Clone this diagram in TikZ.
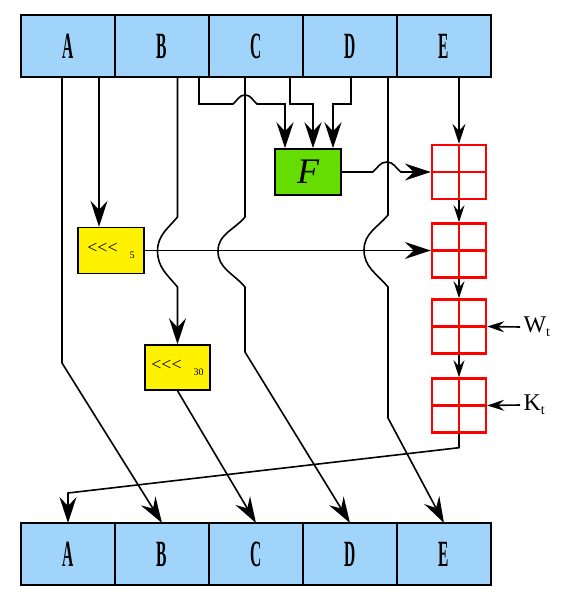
\documentclass[tikz,border=0pt]{standalone}
\usepackage{fontspec}
\setmainfont{Liberation Serif}
\usetikzlibrary{positioning, arrows.meta, calc}
\definecolor{regblue}{RGB}{160,212,250}
\definecolor{fgreen}{RGB}{102,221,0}
\newcommand{\reglbl}[1]{\scalebox{0.42}[1]{#1}}
\newcommand{\rotlbl}[1]{{\fontsize{18}{18}\selectfont <{}<{}<}\hspace{12pt}\raisebox{-5pt}{\fontsize{10}{10}\selectfont #1}}
\tikzset{
  reg/.style={draw, line width=2.6pt, fill=regblue, minimum width=94pt, minimum height=62pt,
    inner sep=0pt, outer sep=0pt, font=\fontsize{37}{37}\selectfont\bfseries},
  rotbox/.style={draw, line width=1.5pt, fill=yellow, minimum width=66pt, minimum height=46pt, inner sep=0pt},
  fbox/.style={draw, line width=1.5pt, fill=fgreen, minimum width=66pt, minimum height=46pt,
    inner sep=0pt, font=\fontsize{36}{36}\selectfont\itshape},
  adder/.style={draw=red, line width=2.4pt, minimum size=54pt, inner sep=0pt,
    path picture={\draw[red, line width=2.4pt]
      (path picture bounding box.north) -- (path picture bounding box.south)
      (path picture bounding box.west) -- (path picture bounding box.east);}},
  wire/.style={line width=1.6pt},
  bigarr/.style={wire, -{Stealth[length=26pt, width=17pt, inset=9pt]}},
  midarr/.style={wire, -{Stealth[length=20pt, width=13pt, inset=7pt]}},
  smallarr/.style={wire, -{Stealth[length=17pt, width=11pt, inset=6pt]}},
}

\begin{document}
\begin{tikzpicture}[x=1pt, y=-1pt]
        \useasboundingbox (0,0) rectangle (567,604);

        % registers, before and after the round
        \foreach \r [count=\i from 0] in {A,B,C,D,E} {
          \node[reg] (t\r) at (68+94*\i, 46) {\reglbl{\r}};
          \node[reg] (b\r) at (68+94*\i, 554) {\reglbl{\r}};
        }

        % function, rotations, adders
        \node[fbox] (F) at (308,172) {F};
        \node[rotbox] (rot1) at (111,250.5) {\rotlbl{5}};
        \node[rotbox, minimum width=65pt, minimum height=45pt] (rot2) at (177.5,367.5) {\rotlbl{30}};
        \node[adder] (add1) at (459,172) {};
        \node[adder] (add2) at (459,250.5) {};
        \node[adder] (add3) at (459,326.5) {};
        \node[adder] (add4) at (459,405.5) {};

        % constants
        \node[anchor=west, font=\fontsize{24}{24}\selectfont] (wt) at (520,327) {W\raisebox{-4pt}{\fontsize{14}{14}\selectfont t}};
        \node[anchor=west, font=\fontsize{24}{24}\selectfont] (kt) at (520,405) {K\raisebox{-4pt}{\fontsize{14}{14}\selectfont t}};

        % A
        \draw[bigarr] ([xshift=-6pt]tA.south) -- ++(0,286) -- (bB.north);
        \draw[bigarr] ([xshift=31pt]tA.south) -- ([xshift=-12pt]rot1.north);

        % B
        \draw[bigarr] (rot2.north |- tB.south) -- ++(0,140) to[out=230,in=90] ++(-20,34)
          to[out=-90,in=130] ++(20,36) -- (rot2.north);
        \draw[bigarr] ([xshift=37pt]tB.south) -- ++(0,27) -- ++(34,0)
          to[out=40,in=180] ++(12,-9) to[out=0,in=140] ++(12,9) -| ([xshift=-23pt]F.north);
        \draw[bigarr] (rot2.south) -- (bC.north);

        % C
        \draw[bigarr] ([xshift=-11pt]tC.south) -- ++(0,140) to[out=230,in=90] ++(-27,34)
          to[out=-90,in=130] ++(27,36) -- ++(0,65) -- (bD.north);
        \draw[bigarr] ([xshift=34pt]tC.south) -- ++(0,27) -| ([xshift=5pt]F.north);

        % D
        \draw[bigarr] ([xshift=1pt]tD.south) -- ++(0,27) -| ([xshift=25pt]F.north);
        \draw[bigarr] ([xshift=38pt]tD.south) -- ++(0,138) to[out=230,in=90] ++(-24,35)
          to[out=-90,in=130] ++(24,37) -- ++(0,131) -- (bE.north);

        % E
        \draw[midarr] (add1.north |- tE.south) -- (add1.north);

        % into the adders
        \draw[bigarr] (F.east) -- ++(31,0) to[out=40,in=180] ++(14,-10)
          to[out=0,in=140] ++(14,10) -- (add1.west);
        \draw[bigarr] (rot1.east) -- (add2.west);
        \draw[smallarr] (add1.south) -- (add2.north);
        \draw[smallarr] (add2.south) -- (add3.north);
        \draw[smallarr] (add3.south) -- (add4.north);
        \draw[smallarr] (wt.west) -- (add3.east);
        \draw[smallarr] (kt.west) -- (add4.east);

        % new A
        \draw[bigarr] (add4.south) -- ++(0,14) -- ([yshift=30pt]bA.north) -- (bA.north);
\end{tikzpicture}
\end{document}
